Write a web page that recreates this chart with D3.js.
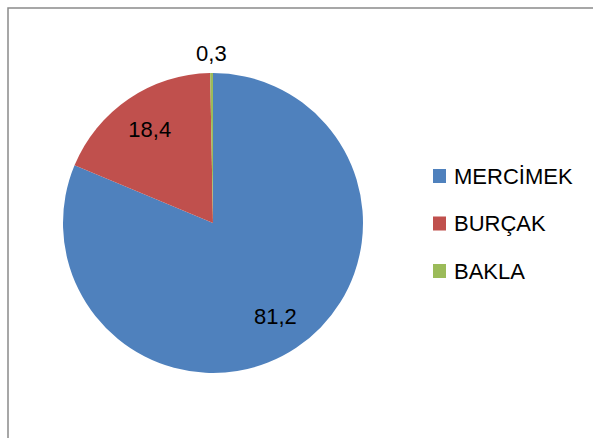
<!DOCTYPE html>
<html><head><meta charset="utf-8">
<script src="https://cdn.jsdelivr.net/npm/d3@7"></script>
<style>html,body{margin:0;padding:0;background:#fff;}svg{display:block;}</style>
</head><body>
<svg id="chart" width="593" height="438"></svg>
<script>
const categories = ["MERCİMEK", "BURÇAK", "BAKLA"];
const values = [81.2, 18.4, 0.3];
const labels = ["81,2", "18,4", "0,3"];
const colors = ["#4F81BD", "#C0504D", "#9BBB59"];

const svg = d3.select("#chart");
const font = "'Liberation Sans', Arial, sans-serif";

// outer frame
svg.append("rect").attr("x", 8).attr("y", 8).attr("width", 620).attr("height", 460)
  .attr("fill", "#fff").attr("stroke", "#8a8a8a").attr("stroke-width", 1.5);

const cx = 213, cy = 223, r = 150;
const g = svg.append("g").attr("transform", `translate(${cx},${cy})`);
const data = categories.map((c, i) => ({cat: c, value: values[i], label: labels[i], color: colors[i]}));
const pie = d3.pie().value(d => d.value).sort(null);
const arcs = pie(data);
const arc = d3.arc().innerRadius(0).outerRadius(r);

g.selectAll("path.slice").data(arcs).enter().append("path")
  .attr("class", "slice").attr("d", arc).attr("fill", d => d.data.color);

const inArc = d3.arc().innerRadius(r * 0.75).outerRadius(r * 0.75);
const outArc = d3.arc().innerRadius(r + 20).outerRadius(r + 20);
g.selectAll("text.lbl").data(arcs).enter().append("text")
  .attr("class", "lbl")
  .attr("transform", d => {
    const small = (d.endAngle - d.startAngle) < 0.1;
    const p = (small ? outArc : inArc).centroid(d);
    return `translate(${p[0]},${p[1]})`;
  })
  .attr("text-anchor", "middle").attr("dominant-baseline", "central")
  .attr("font-family", font).attr("font-size", 22).attr("fill", "#000")
  .text(d => d.data.label);

// legend
const ly = d3.scalePoint().domain(categories).range([176, 271]);
const leg = svg.append("g");
const items = leg.selectAll("g").data(data).enter().append("g")
  .attr("transform", d => `translate(433,${ly(d.cat)})`);
items.append("rect").attr("x", 0).attr("y", -7).attr("width", 13).attr("height", 14)
  .attr("fill", d => d.color);
items.append("text").attr("x", 21).attr("y", 0).attr("dominant-baseline", "central")
  .attr("font-family", font).attr("font-size", 22).attr("fill", "#000")
  .text(d => d.cat);
</script>
</body></html>
